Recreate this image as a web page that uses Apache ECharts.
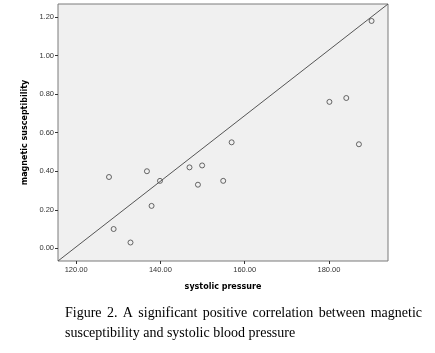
<!DOCTYPE html>
<html>
<head>
<meta charset="utf-8">
<script src="https://cdn.jsdelivr.net/npm/echarts@6/dist/echarts.min.js"></script>
<style>
  html, body { margin: 0; padding: 0; background: #fff; }
  #chart { width: 435px; height: 353px; }
</style>
</head>
<body>
<div id="chart"></div>
<script>
// systolic pressure vs magnetic susceptibility
const systolic = [127.8, 128.9, 132.9, 136.8, 137.9, 139.9, 146.9, 148.9, 149.9, 154.9, 156.9, 180.1, 184.1, 187.1, 190.1];
const susceptibility = [0.37, 0.10, 0.03, 0.40, 0.22, 0.35, 0.42, 0.33, 0.43, 0.35, 0.55, 0.76, 0.78, 0.54, 1.18];
const xTicks = [120, 140, 160, 180];
const yTicks = [0, 0.2, 0.4, 0.6, 0.8, 1.0, 1.2];
const xRange = [115.7, 194];
const yRange = [-0.066, 1.268];
const captionLines = [
    'Figure 2. A significant positive correlation between magnetic',
    'susceptibility and systolic blood pressure'
];

const chart = echarts.init(document.getElementById('chart'));

// 标题两行，第一行两端对齐
function buildCaption() {
    const font = '14px "Liberation Serif", "Times New Roman", serif';
    const ctx = document.createElement('canvas').getContext('2d');
    ctx.font = font;
    const left = 65, right = 422;
    const items = [];
    const words = captionLines[0].split(' ');
    const widths = words.map(w => ctx.measureText(w).width);
    const total = widths.reduce((a, b) => a + b, 0);
    const gap = (right - left - total) / (words.length - 1);
    let x = left;
    words.forEach((w, i) => {
        items.push({ type: 'text', left: x, top: 306, style: { text: w, font: font, fill: '#000' } });
        x += widths[i] + gap;
    });
    items.push({ type: 'text', left: left, top: 326, style: { text: captionLines[1], font: font, fill: '#000' } });
    return items;
}

const option = {
    animation: false,
    grid: {
        left: 58, top: 4, width: 330, height: 257,
        show: true,
        backgroundColor: '#f0f0f0',
        borderColor: '#7a7a7a',
        borderWidth: 1
    },
    xAxis: {
        type: 'value',
        min: xRange[0],
        max: xRange[1],
        name: 'systolic pressure',
        nameLocation: 'middle',
        nameGap: 22,
        nameTextStyle: { fontFamily: 'DejaVu Sans', fontWeight: 'bold', fontSize: 8, color: '#000' },
        axisLine: { show: false, onZero: false },
        splitLine: { show: false },
        axisTick: { show: true, customValues: xTicks, length: 3, lineStyle: { color: '#333' } },
        axisLabel: {
            customValues: xTicks,
            fontFamily: 'Liberation Sans',
            fontSize: 7.5,
            color: '#333',
            margin: 5,
            formatter: v => v.toFixed(2)
        }
    },
    yAxis: {
        type: 'value',
        min: yRange[0],
        max: yRange[1],
        name: 'magnetic susceptibility',
        nameLocation: 'middle',
        nameGap: 22,
        nameTextStyle: { fontFamily: 'DejaVu Sans', fontWeight: 'bold', fontSize: 8, color: '#000' },
        axisLine: { show: false, onZero: false },
        splitLine: { show: false },
        axisTick: { show: true, customValues: yTicks, length: 3, lineStyle: { color: '#333' } },
        axisLabel: {
            customValues: yTicks,
            fontFamily: 'Liberation Sans',
            fontSize: 7.5,
            color: '#333',
            margin: 4,
            formatter: v => v.toFixed(2)
        }
    },
    series: [
        {
            type: 'line',
            data: [[xRange[0], yRange[0]], [xRange[1], yRange[1]]],
            showSymbol: false,
            lineStyle: { color: '#555', width: 1 },
            silent: true
        },
        {
            type: 'scatter',
            data: systolic.map((x, i) => [x, susceptibility[i]]),
            symbol: 'circle',
            symbolSize: 5,
            itemStyle: { color: 'transparent', borderColor: '#444', borderWidth: 1 }
        }
    ],
    graphic: buildCaption()
};

chart.setOption(option);
</script>
</body>
</html>
